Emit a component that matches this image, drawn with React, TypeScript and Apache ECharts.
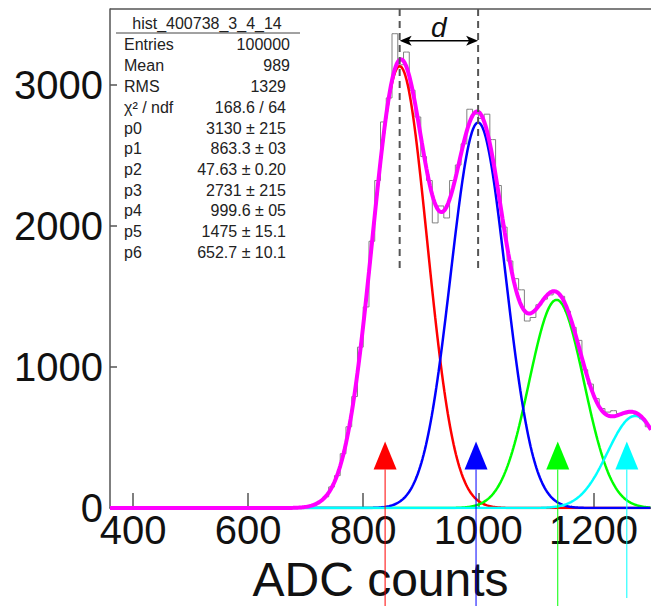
import React, { useEffect, useRef } from "react";
import * as echarts from "echarts";

// ---- data ----
const histTitle = "hist_400738_3_4_14";
const statLabels = ["Entries", "Mean", "RMS", "χ² / ndf", "p0", "p1", "p2", "p3", "p4", "p5", "p6"];
const statValues = [
  "100000", "989", "1329", "168.6 / 64", "3130 ± 215", "863.3 ± 03",
  "47.63 ± 0.20", "2731 ± 215", "999.6 ± 05", "1475 ± 15.1", "652.7 ± 10.1",
];

// histogram: bins of width 10 from 360 to 1300
const histLow = 360;
const histBinWidth = 10;
const histCounts = [
  0, 0, 0, 0, 0, 0, 0, 0, 0, 0, // 365-455
  0, 0, 0, 0, 0, 0, 0, 0, 0, 0, // 465-555
  0, 0, 0, 0, 0, 0, 0, 0, 0, // 565-645
  1, 1, 2, 4, 6, 14, 22, 48, 80, 150, // 655-745
  230, 385, 576, 790, 1140, 1425, 1890, 2320, 2735, 2905, // 755-845
  3360, 3140, 3230, 2960, 2770, 2490, 2320, 2020, 2140, 2055, // 855-945
  2320, 2430, 2580, 2825, 2790, 2760, 2790, 2610, 2285, 1990, // 955-1045
  1750, 1625, 1546, 1325, 1350, 1440, 1480, 1510, 1535, 1500, // 1055-1145
  1395, 1280, 1188, 980, 878, 775, 705, 680, 690, 670, // 1155-1245
  668, 675, 665, 632, 576, // 1255-1295
];

// fit parameters (p0..p6): four gaussians with common width
const gaussAmplitudes = [3130, 2731, 1475, 652.7];
const gaussMeans = [863.3, 999.6, 1135.9, 1272.2];
const gaussSigma = 47.63;
const componentColors = ["#ff0000", "#0000ff", "#00ff00", "#00ffff"];
const fitStart = 360;
const componentStart = 675;
const fitEnd = 1300;

const xRange = [360, 1300];
const yRange = [0, 3535];
const xTicks = [400, 600, 800, 1000, 1200];
const yTicks = [0, 1000, 2000, 3000];

const peakMarkers = [863.3, 999.6];
const dashBottom = 1665;
const dArrowLevel = 3310;
const dLabelLevel = 3405;
const arrowPositions = [838, 996, 1138, 1258];
const arrowTipLevel = 471;
const arrowBaseLevel = 274;

function gauss(x: number, i: number) {
  const d = x - gaussMeans[i];
  return gaussAmplitudes[i] * Math.exp(-(d * d) / (2 * gaussSigma * gaussSigma));
}

export default function App() {
  const ref = useRef<HTMLDivElement>(null);
  useEffect(() => {
    if (!ref.current) return;
    const chart = echarts.init(ref.current, undefined, { renderer: "svg" });

    const histData = histCounts.map((c, i) => [histLow + histBinWidth * (i + 0.5), c]);
    const totalData: number[][] = [];
    for (let x = fitStart; x <= fitEnd; x += 2) {
      let s = 0;
      for (let i = 0; i < 4; i++) s += gauss(x, i);
      totalData.push([x, s]);
    }
    const compData = (i: number) => {
      const arr: number[][] = [];
      for (let x = componentStart; x <= fitEnd; x += 2) arr.push([x, gauss(x, i)]);
      return arr;
    };
    const compOrder = [0, 2, 1, 3];

    const font = "'Liberation Sans', Arial, sans-serif";
    const axisColor = "#555";
    const plain = (v: number) => String(v);

    chart.setOption({
      animation: false,
      grid: { left: 110, top: 9, right: 0, bottom: 96, containLabel: false },
      xAxis: {
        type: "value",
        min: xRange[0],
        max: xRange[1],
        name: "ADC counts",
        nameLocation: "middle",
        nameGap: 46,
        nameTextStyle: { fontSize: 48, color: "#111", fontFamily: font },
        axisLine: { show: true, lineStyle: { color: axisColor, width: 1.5 } },
        axisTick: { show: true, inside: true, length: 15, customValues: xTicks, lineStyle: { color: axisColor, width: 1.5 } },
        axisLabel: { show: true, customValues: xTicks, formatter: plain, fontSize: 40, color: "#111", fontFamily: font, margin: 2 },
        splitLine: { show: false },
      },
      yAxis: {
        type: "value",
        min: yRange[0],
        max: yRange[1],
        interval: 1000,
        axisLine: { show: true, lineStyle: { color: axisColor, width: 1.5 } },
        axisTick: { show: true, inside: true, length: 7, customValues: yTicks, lineStyle: { color: axisColor, width: 1.5 } },
        axisLabel: { show: true, customValues: yTicks, formatter: plain, fontSize: 40, color: "#111", fontFamily: font, margin: 7 },
        splitLine: { show: false },
      },
      series: [
        {
          type: "line",
          data: histData,
          step: "middle",
          symbol: "none",
          lineStyle: { color: "#808080", width: 1 },
          z: 1,
          silent: true,
        },
        ...compOrder.map((i) => ({
          type: "line",
          data: compData(i),
          symbol: "none",
          lineStyle: { color: componentColors[i], width: 2.5 },
          z: 2,
          silent: true,
        })),
        {
          type: "line",
          data: totalData,
          symbol: "none",
          smooth: false,
          lineStyle: { color: "#ff00ff", width: 4 },
          z: 3,
          silent: true,
        },
      ],
    });

    const px = (x: number, y: number) => chart.convertToPixel({ xAxisIndex: 0, yAxisIndex: 0 }, [x, y]) as number[];
    const g: any[] = [];

    // top frame
    const tl = px(xRange[0], yRange[1]);
    const tr = px(xRange[1], yRange[1]);
    g.push({ type: "line", shape: { x1: tl[0], y1: tl[1], x2: tr[0] + 2, y2: tr[1] }, style: { stroke: axisColor, lineWidth: 1.5 }, z: 10 });

    // dashed peak lines
    peakMarkers.forEach((m) => {
      const a = px(m, yRange[1]);
      const b = px(m, dashBottom);
      g.push({ type: "line", shape: { x1: a[0], y1: a[1], x2: b[0], y2: b[1] }, style: { stroke: "#555", lineWidth: 2, lineDash: [7, 5] }, z: 10 });
    });

    // d arrow
    const l = px(peakMarkers[0], dArrowLevel);
    const r = px(peakMarkers[1], dArrowLevel);
    g.push({ type: "line", shape: { x1: l[0] + 4, y1: l[1], x2: r[0] - 4, y2: r[1] }, style: { stroke: "#000", lineWidth: 1.5 }, z: 11 });
    g.push({ type: "polygon", shape: { points: [[l[0], l[1]], [l[0] + 12, l[1] - 5], [l[0] + 9, l[1]], [l[0] + 12, l[1] + 5]] }, style: { fill: "#000" }, z: 11 });
    g.push({ type: "polygon", shape: { points: [[r[0], r[1]], [r[0] - 12, r[1] - 5], [r[0] - 9, r[1]], [r[0] - 12, r[1] + 5]] }, style: { fill: "#000" }, z: 11 });
    const dl = px((peakMarkers[0] + peakMarkers[1]) / 2, dLabelLevel);
    g.push({ type: "text", x: dl[0], y: dl[1], style: { text: "d", fontSize: 28, fontStyle: "italic", fontFamily: font, fill: "#111", align: "center", verticalAlign: "middle" }, z: 11 });

    // colored arrows
    arrowPositions.forEach((a, i) => {
      const tip = px(a, arrowTipLevel);
      const base = px(a, arrowBaseLevel);
      const end = i === 3 ? 598 : 606;
      g.push({ type: "line", shape: { x1: tip[0], y1: base[1], x2: tip[0], y2: end }, style: { stroke: componentColors[i], lineWidth: 1 }, z: 12 });
      g.push({ type: "polygon", shape: { points: [[tip[0], tip[1]], [tip[0] - 11.5, base[1]], [tip[0] + 11.5, base[1]]] }, style: { fill: componentColors[i] }, z: 12 });
    });

    // stats box
    const statFont = 16;
    g.push({ type: "text", x: 207, y: 23, style: { text: histTitle, fontSize: statFont, fontFamily: font, fill: "#222", align: "center", verticalAlign: "middle" }, z: 20 });
    g.push({ type: "line", shape: { x1: 116, y1: 33, x2: 300, y2: 33 }, style: { stroke: "#444", lineWidth: 1 }, z: 20 });
    const rowY = [44, 65, 86, 107, 128, 148, 169, 190, 210, 231, 252];
    statLabels.forEach((lab, i) => {
      g.push({ type: "text", x: 124, y: rowY[i], style: { text: lab, fontSize: statFont, fontFamily: font, fill: "#222", align: "left", verticalAlign: "middle" }, z: 20 });
      g.push({ type: "text", x: i < 2 ? 290 : 286, y: rowY[i], style: { text: statValues[i], fontSize: statFont, fontFamily: font, fill: "#222", align: "right", verticalAlign: "middle" }, z: 20 });
    });

    chart.setOption({ graphic: g });

    return () => chart.dispose();
  }, []);

  return (
    <div
      ref={ref}
      style={{ position: "fixed", left: 0, top: 0, width: 651, height: 608, background: "#fff" }}
    />
  );
}
